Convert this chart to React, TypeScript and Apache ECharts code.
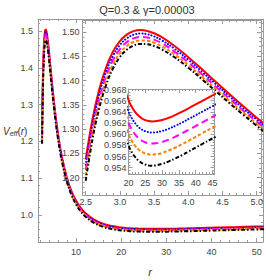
import React, { useEffect, useRef } from 'react';
import * as echarts from 'echarts';

const R = [2.5, 2.6, 2.7, 2.8, 2.9, 3.0, 3.1, 3.2, 3.3, 3.4, 3.5, 3.6, 3.8, 4.0, 4.2, 4.4, 4.6, 4.8, 5.0, 5.2, 5.5, 6, 6.5, 7, 8, 9, 10, 11, 12, 14, 16, 18, 20, 21, 22, 23, 24, 25, 26, 27, 28, 30, 32, 34, 36, 38, 40, 42, 45, 50, 52];

const RED = [1.2375, 1.3210, 1.3829, 1.4279, 1.4598, 1.4813, 1.4947, 1.5018, 1.5039, 1.5022, 1.4974, 1.4903, 1.4713, 1.4482, 1.4232, 1.3976, 1.3721, 1.3474, 1.3236, 1.3011, 1.2696, 1.2234, 1.1844, 1.1517, 1.1012, 1.0652, 1.0392, 1.0201, 1.0060, 0.9872, 0.9763, 0.9699, 0.96612, 0.96488, 0.96395, 0.96329, 0.96282, 0.96252, 0.96235, 0.96228, 0.96230, 0.96253, 0.96294, 0.96347, 0.96406, 0.96469, 0.96534, 0.96599, 0.96695, 0.96846, 0.96903];
const BLUE = [1.2265, 1.3107, 1.3732, 1.4188, 1.4511, 1.4731, 1.4869, 1.4944, 1.4968, 1.4954, 1.4909, 1.4841, 1.4655, 1.4428, 1.4181, 1.3928, 1.3676, 1.3430, 1.3195, 1.2971, 1.2658, 1.2199, 1.1812, 1.1486, 1.0984, 1.0626, 1.0367, 1.0178, 1.0037, 0.9851, 0.9742, 0.9678, 0.96407, 0.96285, 0.96194, 0.96128, 0.96082, 0.96053, 0.96036, 0.96030, 0.96033, 0.96057, 0.96099, 0.96152, 0.96211, 0.96275, 0.96340, 0.96405, 0.96502, 0.96654, 0.96711];
const MAGENTA = [1.2156, 1.3004, 1.3635, 1.4097, 1.4425, 1.4649, 1.4791, 1.4869, 1.4897, 1.4886, 1.4844, 1.4778, 1.4596, 1.4373, 1.4130, 1.3879, 1.3630, 1.3386, 1.3153, 1.2931, 1.2620, 1.2164, 1.1779, 1.1456, 1.0956, 1.0600, 1.0343, 1.0154, 1.0014, 0.9829, 0.9721, 0.9658, 0.96203, 0.96082, 0.95992, 0.95927, 0.95883, 0.95854, 0.95838, 0.95833, 0.95836, 0.95861, 0.95903, 0.95957, 0.96017, 0.96081, 0.96147, 0.96212, 0.96309, 0.96461, 0.96519];
const ORANGE = [1.2046, 1.2901, 1.3539, 1.4005, 1.4338, 1.4567, 1.4713, 1.4795, 1.4826, 1.4818, 1.4778, 1.4715, 1.4538, 1.4319, 1.4079, 1.3831, 1.3584, 1.3343, 1.3111, 1.2891, 1.2582, 1.2129, 1.1747, 1.1425, 1.0928, 1.0574, 1.0318, 1.0130, 0.9991, 0.9807, 0.9700, 0.9637, 0.95999, 0.95879, 0.95790, 0.95726, 0.95683, 0.95655, 0.95640, 0.95635, 0.95639, 0.95664, 0.95708, 0.95762, 0.95823, 0.95887, 0.95953, 0.96019, 0.96116, 0.96269, 0.96327];
const BLACK = [1.1936, 1.2799, 1.3442, 1.3914, 1.4252, 1.4485, 1.4635, 1.4720, 1.4755, 1.4750, 1.4713, 1.4652, 1.4480, 1.4265, 1.4028, 1.3783, 1.3538, 1.3299, 1.3070, 1.2851, 1.2545, 1.2094, 1.1714, 1.1395, 1.0900, 1.0548, 1.0293, 1.0107, 0.9968, 0.9785, 0.9679, 0.9616, 0.95795, 0.95676, 0.95589, 0.95526, 0.95483, 0.95456, 0.95441, 0.95437, 0.95441, 0.95468, 0.95512, 0.95567, 0.95628, 0.95693, 0.95760, 0.95826, 0.95924, 0.96077, 0.96135];

const TITLE = 'Q=0.3 & γ=0.00003';

const FONT = "'Liberation Sans Narrow', 'Arial Narrow', 'Liberation Sans', sans-serif";
const FRAME = '#9a9a9a';
const LABEL = '#444';

const STYLES = [
  { name: 'red', data: RED, line: { color: '#ff0000', width: 2, type: 'solid' } },
  { name: 'blue', data: BLUE, line: { color: '#0000ff', width: 2, type: [0.1, 3], cap: 'round' } },
  { name: 'magenta', data: MAGENTA, line: { color: '#ff00ff', width: 2, type: [7, 4] } },
  { name: 'orange', data: ORANGE, line: { color: '#ff8000', width: 2, type: [3.5, 2] } },
  { name: 'black', data: BLACK, line: { color: '#000000', width: 2, type: [4, 2, 1.5, 2] } },
];

function fmt(step: number, dec: number) {
  return (v: number) => {
    const k = v / step;
    return Math.abs(k - Math.round(k)) < 1e-6 ? v.toFixed(dec) : '';
  };
}

function axis(kind: 'x' | 'y', gi: number, min: number, max: number, step: number, dec: number, position: string, showLabel: boolean, z: number, margin: number, minorSplit: number) {
  return {
    type: 'value',
    gridIndex: gi,
    position,
    min,
    max,
    z,
    splitNumber: kind === 'x' ? 5 : 6,
    scale: true,
    splitLine: { show: false },
    axisLine: { show: true, onZero: false, lineStyle: { color: FRAME, width: 1 } },
    axisTick: { show: true, inside: true, length: 4, lineStyle: { color: FRAME } },
    minorTick: { show: true, splitNumber: minorSplit, length: 2, lineStyle: { color: FRAME } },
    axisLabel: {
      show: showLabel,
      formatter: fmt(step, dec),
      fontSize: 9,
      fontFamily: FONT,
      color: LABEL,
      margin,
      hideOverlap: false,
    },
  };
}

export default function App() {
  const ref = useRef<HTMLDivElement>(null);
  useEffect(() => {
    const chart = echarts.init(ref.current!, null, { renderer: 'svg' });

    const grids = [
      { left: 38, top: 19, width: 226, height: 223, show: true, backgroundColor: '#fff', borderWidth: 0, z: 0 },
      { left: 82.5, top: 20, width: 178.5, height: 175, show: true, backgroundColor: '#fff', borderWidth: 0, z: 10 },
      { left: 128.5, top: 89, width: 86, height: 85, show: true, backgroundColor: '#fff', borderWidth: 0, z: 20 },
    ];

    const xAxes = [
      axis('x', 0, 1.6, 51.4, 10, 0, 'bottom', true, 1, 5, 5),
      axis('x', 0, 1.6, 51.4, 10, 0, 'top', false, 1, 5, 5),
      axis('x', 1, 2.453, 5.063, 0.5, 1, 'bottom', true, 11, 2, 5),
      axis('x', 1, 2.453, 5.063, 0.5, 1, 'top', false, 11, 2, 5),
      axis('x', 2, 20, 45.6, 5, 0, 'bottom', true, 21, 4, 5),
      axis('x', 2, 20, 45.6, 5, 0, 'top', false, 21, 4, 5),
    ];
    const yAxes = [
      axis('y', 0, 0.9266, 1.5326, 0.1, 1, 'left', true, 1, 5, 5),
      axis('y', 0, 0.9266, 1.5326, 0.1, 1, 'right', false, 1, 5, 5),
      { ...axis('y', 1, 1.1644, 1.5247, 0.05, 2, 'left', true, 11, 3, 5), splitNumber: 7 },
      { ...axis('y', 1, 1.1644, 1.5247, 0.05, 2, 'right', false, 11, 3, 5), splitNumber: 7 },
      { ...axis('y', 2, 0.95287, 0.9681, 0.002, 3, 'left', true, 21, 2, 4), splitNumber: 7 },
      { ...axis('y', 2, 0.95287, 0.9681, 0.002, 3, 'right', false, 21, 2, 4), splitNumber: 7 },
    ];

    const series: any[] = [];
    [0, 1, 2].forEach((g) => {
      STYLES.forEach((s) => {
        series.push({
          type: 'line',
          name: s.name + g,
          xAxisIndex: g * 2,
          yAxisIndex: g * 2,
          data: R.map((r, i) => [r, s.data[i]]),
          showSymbol: false,
          symbol: 'none',
          smooth: 0.4,
          clip: true,
          z: 2 + g * 10,
          lineStyle: s.line,
          emphasis: { disabled: true },
        });
      });
    });

    const option: any = {
      animation: false,
      backgroundColor: '#fff',
      grid: grids,
      xAxis: xAxes,
      yAxis: yAxes,
      series,
      graphic: [
        {
          type: 'text',
          x: 147,
          y: 10,
          z: 50,
          style: { text: TITLE, fontSize: 11, fontFamily: FONT, fill: '#333', align: 'center', verticalAlign: 'middle' },
        },
        {
          type: 'text',
          x: 3,
          y: 131,
          z: 50,
          style: {
            text: '{v|V}{s|eff}{n|(}{i|r}{n|)}',
            align: 'left',
            verticalAlign: 'middle',
            rich: {
              v: { fontSize: 10, fontStyle: 'italic', fontFamily: FONT, fill: '#333' },
              s: { fontSize: 7, fontStyle: 'italic', fontFamily: FONT, fill: '#333', padding: [5, 0, 0, 0] },
              n: { fontSize: 10, fontFamily: FONT, fill: '#333' },
              i: { fontSize: 10, fontStyle: 'italic', fontFamily: FONT, fill: '#333' },
            },
          },
        },
        {
          type: 'text',
          x: 150,
          y: 272,
          z: 50,
          style: { text: 'r', fontSize: 11, fontStyle: 'italic', fontFamily: FONT, fill: '#333', align: 'center', verticalAlign: 'middle' },
        },
      ],
    };

    chart.setOption(option);
    return () => chart.dispose();
  }, []);
  return <div ref={ref} style={{ position: 'absolute', left: 0, top: 0, width: 266, height: 280, background: '#fff' }} />;
}
